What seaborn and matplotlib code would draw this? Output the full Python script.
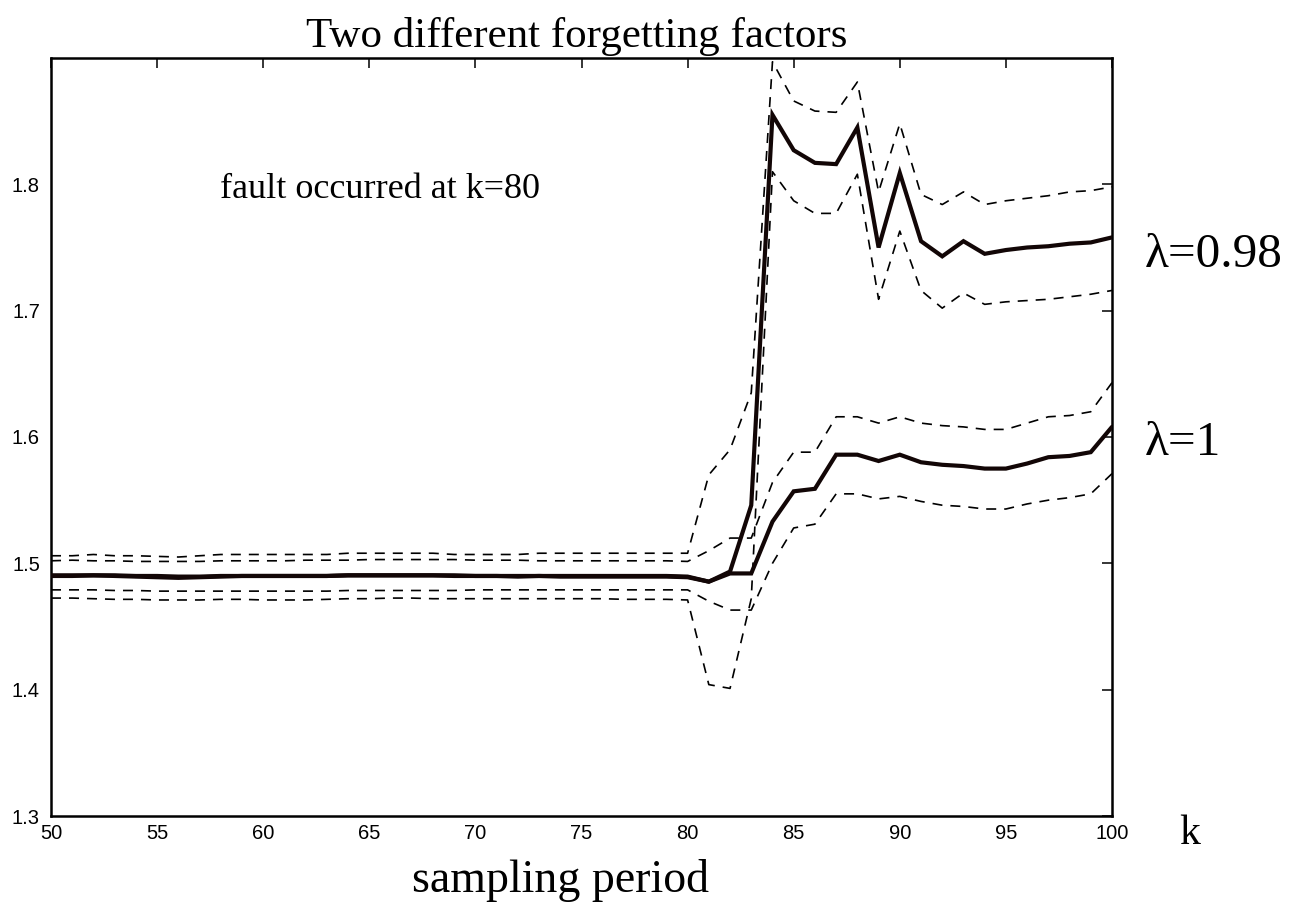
import numpy as np
import pandas as pd
import matplotlib
matplotlib.use("Agg")
import matplotlib.pyplot as plt
import seaborn as sns

# ---------------- data ----------------
k = list(range(50, 101))

lam098_mean = [1.490, 1.490, 1.4905, 1.490, 1.4895, 1.489, 1.4885, 1.489, 1.4895, 1.490,
               1.490, 1.490, 1.490, 1.490, 1.4905, 1.4905, 1.4905, 1.4905, 1.4905, 1.490,
               1.490, 1.490, 1.4895, 1.490, 1.4895, 1.4895, 1.4895, 1.4895, 1.4895, 1.4895,
               1.489, 1.4855, 1.4935, 1.546, 1.855, 1.827, 1.817, 1.816, 1.845, 1.750,
               1.809, 1.755, 1.743, 1.755, 1.745, 1.748, 1.750, 1.751, 1.753, 1.754, 1.758]
lam098_upper = [1.506, 1.506, 1.507, 1.506, 1.506, 1.5055, 1.505, 1.506, 1.507, 1.507,
                1.507, 1.507, 1.507, 1.507, 1.508, 1.508, 1.508, 1.508, 1.508, 1.507,
                1.507, 1.507, 1.507, 1.508, 1.508, 1.508, 1.508, 1.508, 1.508, 1.508,
                1.508, 1.570, 1.590, 1.635, 1.897, 1.866, 1.858, 1.857, 1.881, 1.794,
                1.848, 1.792, 1.784, 1.794, 1.784, 1.787, 1.789, 1.791, 1.794, 1.795, 1.798]
lam098_lower = [1.4725, 1.4725, 1.472, 1.4715, 1.4715, 1.471, 1.471, 1.471, 1.4715, 1.4715,
                1.471, 1.471, 1.471, 1.4715, 1.472, 1.472, 1.4725, 1.4725, 1.472, 1.472,
                1.472, 1.472, 1.472, 1.472, 1.472, 1.472, 1.472, 1.4715, 1.4715, 1.4715,
                1.471, 1.404, 1.401, 1.472, 1.810, 1.787, 1.777, 1.777, 1.808, 1.709,
                1.763, 1.716, 1.702, 1.714, 1.705, 1.707, 1.708, 1.709, 1.711, 1.713, 1.716]

lam1_mean = [1.4905, 1.4905, 1.4905, 1.4905, 1.490, 1.490, 1.4895, 1.4895, 1.490, 1.490,
             1.490, 1.490, 1.490, 1.490, 1.4905, 1.4905, 1.4905, 1.4905, 1.4905, 1.4905,
             1.490, 1.490, 1.490, 1.490, 1.490, 1.490, 1.490, 1.490, 1.490, 1.490,
             1.4895, 1.4855, 1.492, 1.492, 1.533, 1.557, 1.559, 1.586, 1.586, 1.581,
             1.586, 1.580, 1.578, 1.577, 1.575, 1.575, 1.579, 1.584, 1.585, 1.588, 1.608]
lam1_upper = [1.502, 1.5025, 1.502, 1.502, 1.5015, 1.5015, 1.5015, 1.5015, 1.502, 1.502,
              1.502, 1.502, 1.5025, 1.5025, 1.5025, 1.503, 1.503, 1.503, 1.503, 1.503,
              1.5025, 1.5025, 1.5025, 1.502, 1.502, 1.502, 1.502, 1.502, 1.502, 1.502,
              1.5015, 1.510, 1.520, 1.520, 1.564, 1.588, 1.588, 1.616, 1.616, 1.611,
              1.616, 1.611, 1.609, 1.608, 1.606, 1.606, 1.611, 1.616, 1.617, 1.620, 1.643]
lam1_lower = [1.479, 1.479, 1.479, 1.4785, 1.4785, 1.478, 1.478, 1.478, 1.478, 1.478,
              1.478, 1.478, 1.478, 1.478, 1.4785, 1.4785, 1.4785, 1.4785, 1.4785, 1.4785,
              1.479, 1.479, 1.479, 1.479, 1.479, 1.479, 1.479, 1.479, 1.479, 1.479,
              1.479, 1.470, 1.463, 1.463, 1.500, 1.528, 1.531, 1.555, 1.555, 1.551,
              1.553, 1.549, 1.546, 1.545, 1.543, 1.543, 1.547, 1.550, 1.552, 1.555, 1.571]

x_ticks = [50, 55, 60, 65, 70, 75, 80, 85, 90, 95, 100]
y_ticks = [1.3, 1.4, 1.5, 1.6, 1.7, 1.8]

title_text = "Two different forgetting factors"
annot_text = "fault occurred at k=80"
label_098 = "λ=0.98"
label_1 = "λ=1"
xlabel_text = "sampling period"
k_text = "k"

# ---------------- figure ----------------
sns.set_style("white")
plt.rcParams["font.family"] = ["Liberation Sans", "DejaVu Sans"]

W, H = 1290, 908
fig = plt.figure(figsize=(W / 100, H / 100), dpi=100)
ax_left, ax_right, ax_top, ax_bottom = 51, 1112, 58, 816
ax = fig.add_axes([ax_left / W, 1 - ax_bottom / H,
                   (ax_right - ax_left) / W, (ax_bottom - ax_top) / H])

dash_style = (0, (6, 4.8))
for series in [lam098_upper, lam098_lower, lam1_upper, lam1_lower]:
    sns.lineplot(x=k, y=series, ax=ax, color="black", linewidth=1.2,
                 linestyle=dash_style, zorder=2)
for series in [lam1_mean, lam098_mean]:
    sns.lineplot(x=k, y=series, ax=ax, color="#120606", linewidth=3.0,
                 zorder=3, solid_joinstyle="miter")

ax.set_xlim(50, 100)
ax.set_ylim(1.3, 1.9)
ax.set_xticks(x_ticks)
ax.set_xticklabels([str(v) for v in x_ticks])
ax.set_yticks(y_ticks)
ax.set_yticklabels([f"{v:.1f}" for v in y_ticks])
ax.tick_params(axis="both", direction="in", length=7, width=1.1,
               labelsize=14.5, colors="black", top=True, right=True)
ax.tick_params(axis="x", pad=6)
ax.tick_params(axis="y", pad=8)
for sp in ax.spines.values():
    sp.set_visible(True)
    sp.set_color("black")
    sp.set_linewidth(1.8)
ax.set_xlabel("")
ax.set_ylabel("")
ax.grid(False)

serif = ["Liberation Serif", "DejaVu Serif"]
def ftext(px, py, s, ha="left", va="center", size=29):
    fig.text(px / W, 1 - py / H, s, ha=ha, va=va, fontsize=size,
             family=serif, color="black")

ftext(577, 36, title_text, ha="center", size=31)
ftext(220, 190, annot_text, ha="left", size=26)
ftext(1145, 255, label_098, ha="left", size=35.5)
ftext(1145, 443, label_1, ha="left", size=35.5)
ftext(1190, 834, k_text, ha="center", size=30)
ftext(561, 880, xlabel_text, ha="center", size=33)

fig.savefig("out.png", dpi=100, facecolor="white")
